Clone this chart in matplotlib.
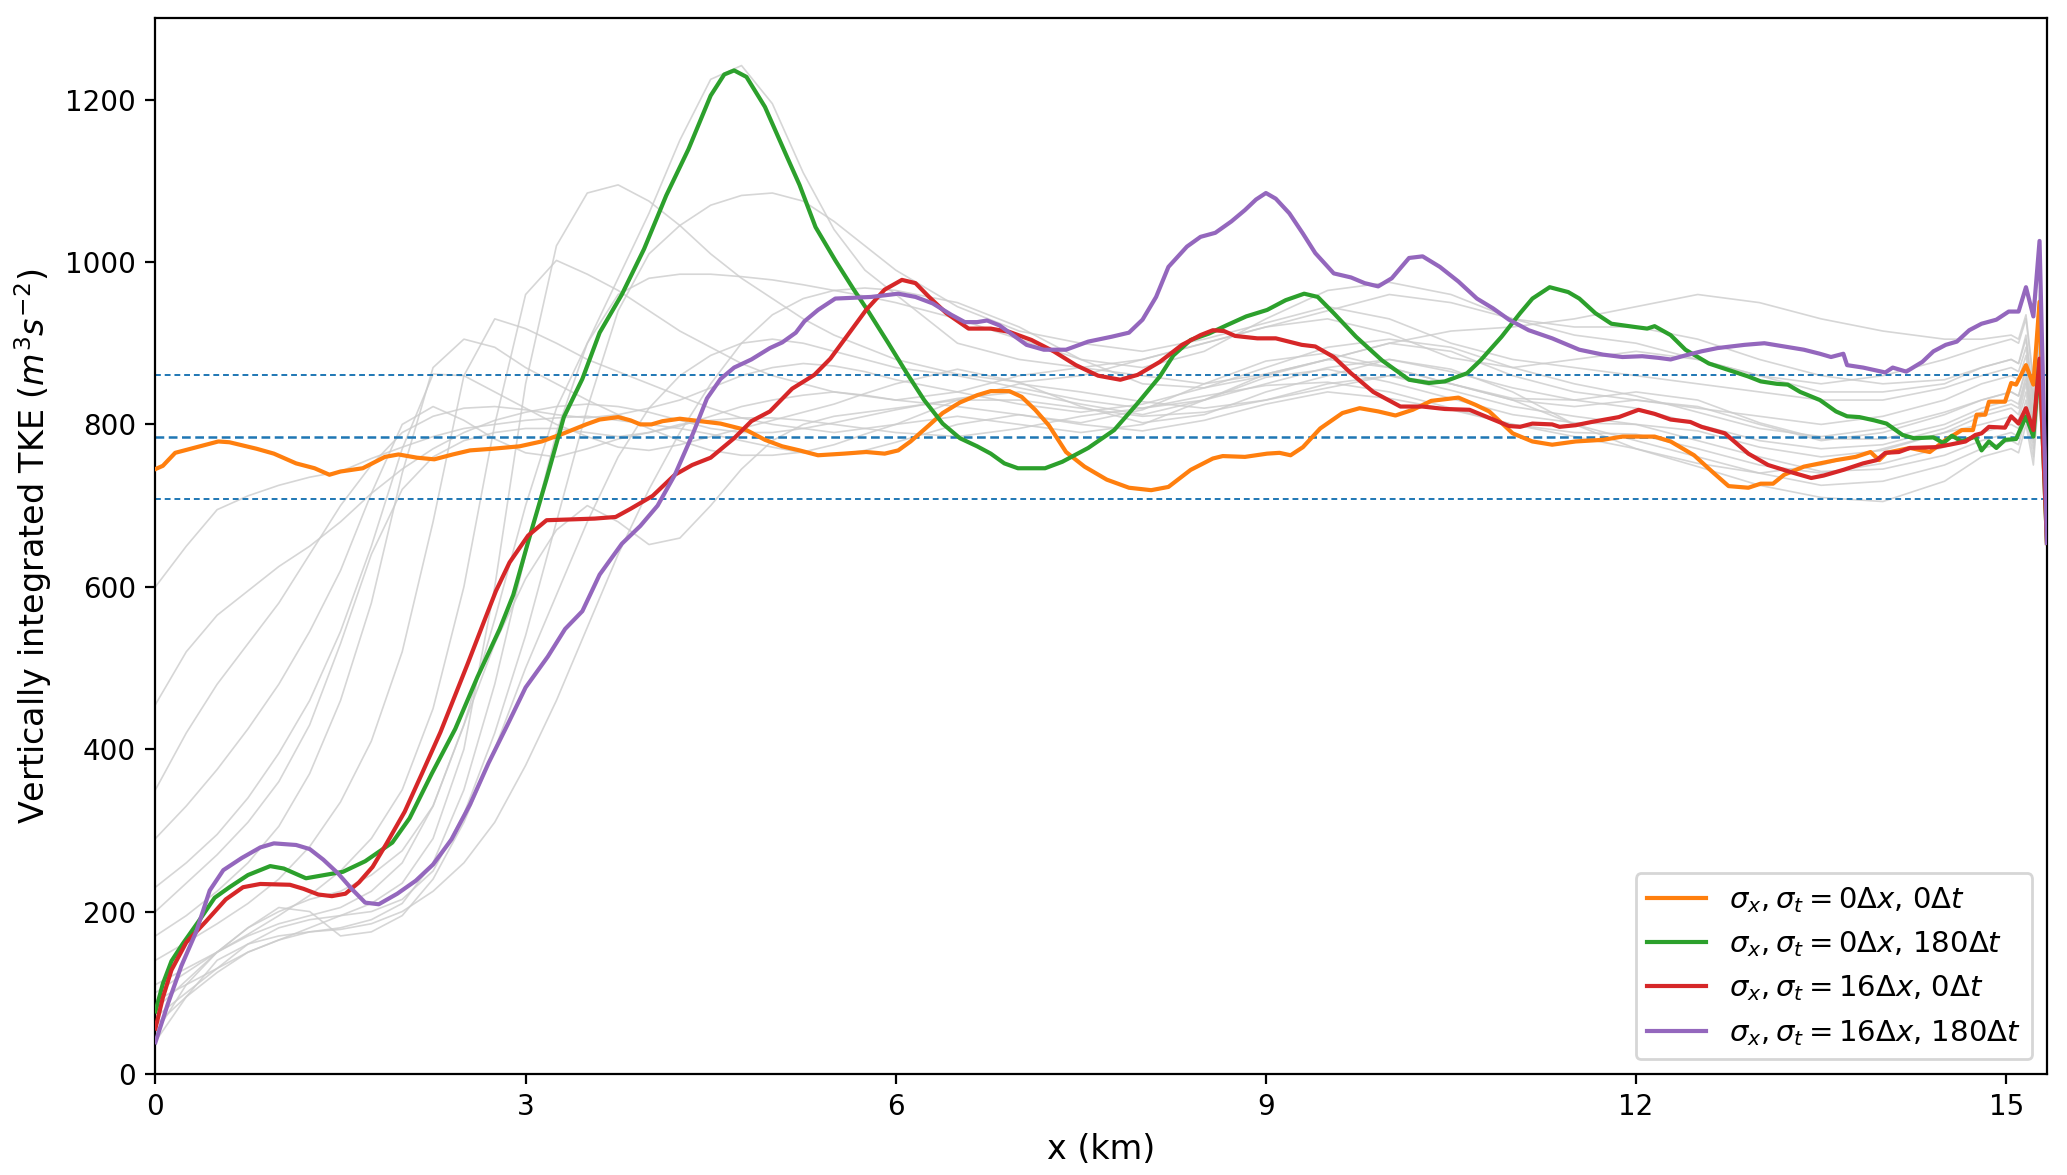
import numpy as np
import matplotlib
matplotlib.use("Agg")
import matplotlib.pyplot as plt

# colored runs (x in km, TKE in m^3 s^-2)
orange_x = [0.0, 0.06, 0.16, 0.31, 0.51, 0.60, 0.71, 0.82, 0.96, 1.14, 1.29, 1.41, 1.50, 1.68, 1.86, 1.97,
            2.12, 2.26, 2.41, 2.55, 2.73, 2.95, 3.13, 3.31, 3.49, 3.60, 3.75, 3.85, 3.93, 4.02, 4.11, 4.25,
            4.36, 4.58, 4.79, 4.94, 5.08, 5.22, 5.37, 5.58, 5.76, 5.91, 6.02, 6.12, 6.27, 6.38, 6.52, 6.66,
            6.77, 6.92, 7.02, 7.13, 7.24, 7.38, 7.53, 7.71, 7.89, 8.07, 8.21, 8.39, 8.57, 8.65, 8.83, 9.01,
            9.11, 9.20, 9.30, 9.44, 9.62, 9.76, 9.91, 10.05, 10.19, 10.34, 10.56, 10.70, 10.81, 11.00, 11.16,
            11.32, 11.51, 11.73, 11.89, 12.15, 12.28, 12.47, 12.63, 12.75, 12.91, 13.01, 13.11, 13.20, 13.36,
            13.49, 13.62, 13.78, 13.90, 13.97, 14.03, 14.22, 14.38, 14.51, 14.64, 14.73, 14.76, 14.83, 14.86,
            14.99, 15.04, 15.08, 15.16, 15.22, 15.27, 15.33]
orange_y = [745, 749, 765, 771, 779, 778, 774, 770, 764, 752, 746, 738, 742, 746, 760, 763,
            759, 757, 763, 768, 770, 773, 779, 789, 800, 806, 809, 805, 800, 800, 804, 807,
            805, 801, 793, 781, 773, 768, 762, 764, 766, 764, 768, 779, 799, 814, 827, 836,
            841, 841, 834, 818, 799, 766, 748, 732, 722, 719, 723, 744, 758, 761, 760, 764,
            765, 762, 772, 795, 814, 820, 816, 811, 818, 829, 833, 824, 816, 789, 779,
            775, 779, 781, 785, 785, 779, 762, 740, 724, 722, 727, 727, 738, 748,
            752, 756, 760, 766, 756, 765, 771, 766, 781, 793, 793, 812, 812, 828,
            828, 851, 849, 873, 849, 951, 654]

green_x = [0.0, 0.06, 0.13, 0.22, 0.35, 0.48, 0.60, 0.75, 0.93, 1.04, 1.22, 1.37, 1.52, 1.70, 1.92, 2.06,
           2.24, 2.43, 2.61, 2.79, 2.90, 3.02, 3.17, 3.31, 3.46, 3.60, 3.78, 3.96, 4.14, 4.32, 4.50, 4.61,
           4.69, 4.79, 4.94, 5.12, 5.22, 5.35, 5.51, 5.66, 5.77, 5.94, 6.09, 6.23, 6.38, 6.52, 6.66, 6.77,
           6.88, 6.99, 7.21, 7.35, 7.56, 7.77, 7.96, 8.14, 8.25, 8.39, 8.54, 8.68, 8.84, 9.01, 9.16, 9.31,
           9.42, 9.55, 9.73, 9.94, 10.16, 10.32, 10.45, 10.63, 10.74, 10.91, 11.06, 11.16, 11.30, 11.45,
           11.54, 11.67, 11.80, 11.99, 12.09, 12.15, 12.28, 12.40, 12.59, 12.75, 12.91, 13.01, 13.14, 13.23,
           13.33, 13.49, 13.62, 13.71, 13.81, 13.93, 14.03, 14.16, 14.25, 14.41, 14.49, 14.56, 14.64, 14.75,
           14.80, 14.86, 14.92, 14.99, 15.08, 15.16, 15.22, 15.27, 15.33]
green_y = [77, 111, 139, 160, 188, 217, 230, 245, 256, 253, 241, 245, 249, 262, 285, 315,
           370, 425, 489, 548, 590, 655, 733, 809, 856, 913, 960, 1016, 1082, 1139, 1205, 1231,
           1236, 1228, 1191, 1129, 1095, 1043, 1002, 966, 941, 900, 863, 830, 801, 783, 773, 764,
           752, 746, 746, 754, 771, 793, 826, 859, 885, 904, 912, 922, 933, 941, 953, 961,
           957, 937, 908, 879, 855, 851, 853, 863, 879, 908, 937, 955, 969, 963,
           955, 937, 924, 920, 918, 921, 910, 892, 875, 867, 859, 853, 850, 849,
           840, 830, 816, 810, 809, 805, 801, 787, 783, 784, 777, 786, 779, 785,
           768, 779, 771, 781, 782, 810, 785, 879, 654]

red_x = [0.0, 0.06, 0.13, 0.25, 0.41, 0.57, 0.71, 0.85, 1.09, 1.20, 1.32, 1.43, 1.54, 1.65, 1.76, 1.87,
         2.02, 2.16, 2.31, 2.42, 2.53, 2.67, 2.76, 2.87, 3.02, 3.17, 3.37, 3.56, 3.73, 3.85, 4.03, 4.21,
         4.35, 4.50, 4.69, 4.83, 4.98, 5.16, 5.34, 5.47, 5.62, 5.76, 5.91, 6.05, 6.16, 6.27, 6.41, 6.59,
         6.77, 6.92, 7.10, 7.28, 7.46, 7.64, 7.82, 7.96, 8.14, 8.32, 8.47, 8.57, 8.66, 8.75, 8.93, 9.08,
         9.29, 9.40, 9.55, 9.69, 9.87, 10.09, 10.27, 10.45, 10.65, 10.81, 10.97, 11.06, 11.16, 11.32,
         11.38, 11.51, 11.64, 11.86, 12.02, 12.15, 12.28, 12.44, 12.53, 12.72, 12.91, 13.07, 13.26, 13.42,
         13.52, 13.68, 13.84, 13.95, 14.02, 14.13, 14.22, 14.43, 14.54, 14.67, 14.75, 14.80, 14.86, 14.99,
         15.04, 15.10, 15.16, 15.22, 15.27, 15.33]
red_y = [56, 94, 128, 162, 188, 215, 230, 234, 233, 228, 221, 219, 222, 236, 255, 283,
         323, 370, 421, 463, 505, 560, 595, 630, 663, 682, 683, 684, 686, 696, 712, 738,
         750, 759, 783, 804, 816, 844, 861, 881, 912, 941, 966, 978, 974, 957, 937, 918,
         918, 914, 904, 890, 873, 860, 855, 861, 877, 898, 910, 916, 915, 909, 906, 906,
         898, 896, 883, 863, 840, 822, 822, 819, 818, 808, 798, 797, 801, 800,
         797, 799, 803, 809, 818, 813, 806, 803, 797, 789, 764, 750, 741, 734,
         737, 744, 752, 756, 765, 766, 771, 772, 775, 779, 787, 789, 797, 796,
         810, 801, 820, 793, 881, 654]

purple_x = [0.0, 0.10, 0.21, 0.33, 0.44, 0.55, 0.70, 0.85, 0.96, 1.14, 1.25, 1.36, 1.48, 1.59, 1.70, 1.81,
            1.96, 2.11, 2.25, 2.40, 2.55, 2.70, 2.85, 3.00, 3.18, 3.32, 3.46, 3.60, 3.78, 3.93, 4.07, 4.21,
            4.36, 4.47, 4.58, 4.69, 4.83, 4.98, 5.08, 5.19, 5.26, 5.37, 5.51, 5.66, 5.80, 5.91, 6.02, 6.16,
            6.30, 6.45, 6.56, 6.66, 6.74, 6.84, 6.95, 7.06, 7.20, 7.38, 7.56, 7.75, 7.89, 8.00, 8.11, 8.21,
            8.36, 8.47, 8.59, 8.72, 8.83, 8.92, 9.00, 9.08, 9.19, 9.30, 9.40, 9.55, 9.69, 9.80, 9.91, 10.02,
            10.16, 10.27, 10.41, 10.56, 10.71, 10.84, 10.97, 11.13, 11.32, 11.54, 11.73, 11.89, 12.05, 12.18,
            12.28, 12.40, 12.53, 12.66, 12.88, 13.04, 13.20, 13.36, 13.49, 13.58, 13.68, 13.71, 13.84, 13.93,
            14.02, 14.08, 14.19, 14.32, 14.41, 14.51, 14.60, 14.70, 14.80, 14.92, 15.02, 15.10, 15.16, 15.22,
            15.27, 15.33]
purple_y = [39, 86, 133, 175, 226, 251, 266, 279, 284, 282, 277, 264, 247, 228, 211, 209,
            222, 238, 258, 289, 332, 383, 429, 476, 514, 548, 570, 615, 653, 675, 700, 738,
            790, 832, 856, 870, 880, 894, 901, 913, 927, 941, 955, 956, 957, 959, 961, 957,
            949, 935, 926, 926, 928, 922, 910, 898, 892, 892, 902, 908, 913, 929, 957, 994,
            1019, 1031, 1036, 1050, 1064, 1077, 1085, 1078, 1060, 1035, 1011, 986, 981, 974, 970, 980,
            1005, 1007, 994, 976, 955, 943, 929, 916, 906, 892, 886, 883, 884, 882,
            880, 885, 890, 894, 898, 900, 896, 892, 887, 883, 887, 873, 870, 867,
            864, 870, 865, 877, 890, 898, 902, 916, 924, 929, 939, 939, 969, 933,
            1026, 654]

# the other runs of the ensemble (grey), on a shared x grid
gray_x = [0, 0.25, 0.5, 0.75, 1.0, 1.25, 1.5, 1.75, 2.0, 2.25, 2.5, 2.75, 3.0, 3.25, 3.5, 3.75,
          4.0, 4.25, 4.5, 4.75, 5.0, 5.25, 5.5, 5.75, 6.0, 6.5, 7.0, 7.5, 8.0, 8.5, 9.0, 9.5,
          10.0, 10.5, 11.0, 11.5, 12.0, 12.5, 13.0, 13.5, 14.0, 14.5, 14.8, 15.04, 15.1, 15.16,
          15.22, 15.27, 15.33]

gray_runs = [
    [600, 650, 695, 712, 725, 735, 742, 758, 772, 785, 795, 800, 805, 808, 810, 805, 800, 795, 788, 780, 772, 765, 762, 768, 778,
     800, 812, 800, 792, 805, 825, 840, 832, 818, 800, 790, 788, 770, 750, 740, 752, 772,
     790, 800, 795, 830, 778, 880, 654],
    [455, 520, 565, 595, 625, 650, 680, 715, 745, 770, 790, 805, 815, 822, 825, 822, 815, 805, 795, 790, 790, 795, 802, 810, 818,
     832, 840, 825, 812, 830, 858, 868, 852, 832, 812, 802, 800, 792, 772, 760, 768, 790,
     810, 820, 812, 850, 790, 900, 654],
    [290, 330, 375, 425, 480, 545, 620, 715, 800, 822, 805, 782, 765, 760, 770, 782, 790, 798, 810, 822, 830, 836, 840, 836, 830,
     822, 812, 802, 818, 850, 878, 888, 870, 850, 830, 822, 830, 822, 800, 780, 790, 812,
     830, 840, 835, 870, 800, 918, 654],
    [230, 260, 295, 340, 395, 460, 545, 650, 770, 862, 860, 840, 820, 800, 785, 772, 768, 775, 785, 795, 805, 815, 825, 838, 850,
     868, 852, 822, 802, 812, 840, 860, 880, 868, 840, 800, 770, 752, 740, 750, 770, 790,
     800, 810, 805, 840, 782, 892, 654],
    [170, 195, 225, 260, 305, 370, 460, 580, 740, 870, 905, 895, 870, 850, 830, 812, 795, 780, 768, 762, 762, 766, 775, 788, 800,
     830, 850, 840, 828, 820, 830, 850, 860, 842, 822, 810, 800, 780, 760, 742, 745, 762,
     780, 790, 785, 820, 770, 870, 654],
    [140, 162, 185, 210, 240, 280, 335, 410, 520, 680, 860, 930, 918, 900, 880, 865, 850, 835, 820, 808, 800, 795, 790, 795, 800,
     810, 800, 790, 800, 830, 862, 880, 870, 850, 832, 830, 840, 830, 802, 782, 782, 800,
     820, 830, 825, 860, 795, 905, 654],
    [110, 130, 150, 172, 195, 220, 250, 290, 350, 450, 600, 800, 960, 1002, 985, 965, 940, 915, 895, 875, 860, 850, 840, 835, 830,
     840, 860, 870, 860, 850, 862, 880, 900, 890, 860, 840, 830, 820, 810, 800, 810, 830,
     850, 860, 855, 885, 810, 930, 654],
    [90, 110, 130, 150, 165, 180, 195, 210, 235, 290, 400, 600, 850, 1020, 1085, 1095, 1075, 1045, 1010, 980, 955, 930, 910, 895, 880,
     862, 852, 860, 880, 900, 920, 930, 912, 882, 870, 880, 890, 880, 860, 840, 840, 850,
     870, 880, 875, 910, 830, 950, 654],
    [80, 115, 150, 180, 200, 215, 225, 245, 275, 330, 430, 560, 700, 820, 900, 980, 1060, 1150, 1225, 1242, 1195, 1110, 1040, 990, 960,
     900, 880, 870, 880, 900, 920, 940, 960, 950, 930, 920, 920, 905, 880, 860, 850, 855,
     870, 880, 875, 905, 830, 940, 654],
    [70, 100, 130, 160, 180, 190, 195, 200, 215, 250, 320, 420, 540, 680, 820, 940, 1010, 1045, 1070, 1082, 1085, 1075, 1050, 1020, 990,
     945, 915, 900, 890, 905, 925, 945, 930, 900, 880, 870, 860, 850, 840, 830, 830, 845,
     860, 870, 865, 895, 820, 935, 654],
    [60, 95, 125, 150, 165, 175, 180, 190, 210, 260, 350, 480, 640, 790, 900, 960, 980, 985, 985, 982, 978, 972, 965, 958, 950,
     930, 905, 880, 870, 890, 930, 965, 975, 960, 930, 910, 900, 880, 860, 850, 860, 880,
     895, 905, 900, 930, 850, 960, 654],
    [100, 125, 150, 170, 185, 195, 205, 225, 260, 330, 430, 530, 610, 670, 700, 680, 652, 660, 700, 745, 780, 800, 810, 815, 820,
     830, 830, 820, 810, 815, 830, 845, 860, 850, 830, 800, 780, 760, 740, 725, 730, 750,
     770, 780, 775, 810, 760, 860, 654],
    [50, 110, 150, 180, 205, 200, 170, 175, 195, 240, 310, 400, 500, 590, 680, 760, 820, 860, 885, 900, 905, 900, 890, 880, 870,
     860, 845, 830, 820, 830, 850, 870, 880, 865, 845, 830, 820, 800, 780, 770, 775, 795,
     815, 825, 820, 855, 790, 905, 654],
    [40, 95, 140, 160, 170, 175, 178, 185, 200, 225, 260, 310, 380, 460, 550, 640, 720, 790, 850, 900, 935, 955, 965, 968, 965,
     950, 920, 880, 850, 845, 860, 880, 900, 915, 920, 930, 945, 960, 950, 930, 915, 905,
     905, 910, 905, 935, 855, 965, 654],
    [200, 235, 270, 310, 360, 430, 530, 640, 720, 760, 780, 790, 795, 795, 790, 785, 790, 800, 805, 808, 808, 805, 800, 795, 790,
     785, 795, 810, 820, 835, 848, 852, 840, 820, 800, 785, 770, 748, 725, 710, 705, 730,
     760, 770, 765, 800, 750, 850, 654],
    [350, 420, 480, 530, 580, 640, 700, 750, 790, 810, 820, 822, 818, 812, 808, 812, 820, 830, 845, 860, 870, 875, 872, 865, 855,
     840, 825, 815, 825, 845, 870, 895, 905, 895, 870, 850, 835, 815, 795, 785, 795, 815,
     830, 840, 835, 868, 805, 915, 654],
]

# mean and +/- one std of the reference band
band_mean = 784.5
band_std = 76.0

labels = [r'$\sigma_x, \sigma_t = 0\Delta x$, $0\Delta t$',
          r'$\sigma_x, \sigma_t = 0\Delta x$, $180\Delta t$',
          r'$\sigma_x, \sigma_t = 16\Delta x$, $0\Delta t$',
          r'$\sigma_x, \sigma_t = 16\Delta x$, $180\Delta t$']
colors = ['tab:orange', 'tab:green', 'tab:red', 'tab:purple']

fig, ax = plt.subplots(figsize=(2067 / 200, 1175 / 200), dpi=200)
fig.subplots_adjust(left=0.0752, right=0.9903, top=0.9843, bottom=0.086)

for run in gray_runs:
    ax.plot(gray_x, run, color='#cccccc', lw=0.6, alpha=0.8, zorder=1)

ax.axhline(band_mean, color='tab:blue', lw=0.9, ls=(0, (3.5, 1.8)), zorder=2)
ax.axhline(band_mean + band_std, color='tab:blue', lw=0.7, ls=(0, (3.0, 2.0)), zorder=2)
ax.axhline(band_mean - band_std, color='tab:blue', lw=0.7, ls=(0, (3.0, 2.0)), zorder=2)

series = [(orange_x, orange_y), (green_x, green_y), (red_x, red_y), (purple_x, purple_y)]
for (xs, ys), lab, c in zip(series, labels, colors):
    ax.plot(xs, ys, color=c, lw=1.5, label=lab, zorder=3)

ax.set_xlim(0, 15.33)
ax.set_ylim(0, 1300)
ax.set_xticks([0, 3, 6, 9, 12, 15])
ax.set_yticks(np.arange(0, 1201, 200))
ax.set_xlabel('x (km)', fontsize=12)
ax.set_ylabel(r'Vertically integrated TKE ($m^3s^{-2}$)', fontsize=12)
ax.legend(loc='lower right', fontsize=10.5)

plt.savefig('out.png', dpi=200)
